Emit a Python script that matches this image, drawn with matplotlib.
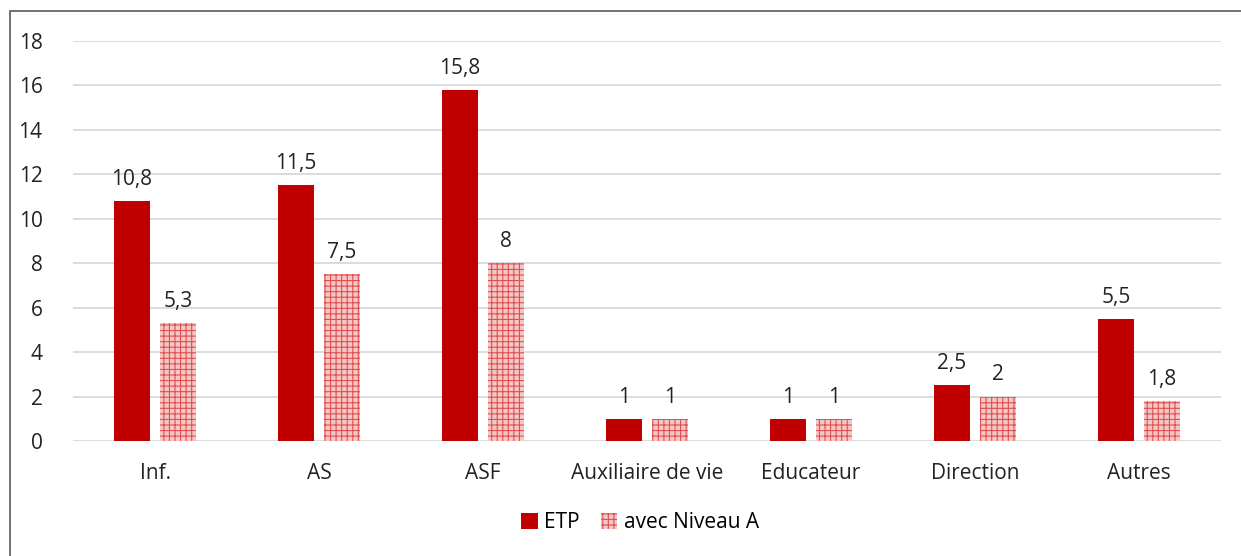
import matplotlib.pyplot as plt
import numpy as np
from matplotlib.patches import Rectangle

plt.rcParams['font.family'] = ['Open Sans', 'DejaVu Sans']
plt.rcParams['hatch.linewidth'] = 0.8

# data
categories = ['Inf.', 'AS', 'ASF', 'Auxiliaire de vie', 'Educateur', 'Direction', 'Autres']
etp = [10.8, 11.5, 15.8, 1, 1, 2.5, 5.5]
niveau_a = [5.3, 7.5, 8, 1, 1, 2, 1.8]
labels_etp = ['10,8', '11,5', '15,8', '1', '1', '2,5', '5,5']
labels_niv = ['5,3', '7,5', '8', '1', '1', '2', '1,8']

red = '#c00000'
fig = plt.figure(figsize=(12.41, 5.56), dpi=100)
ax = fig.add_axes([73 / 1241, 1 - 441 / 556, (1221 - 73) / 1241, 400 / 556])

x = np.arange(len(categories))
w = 0.225
b1 = ax.bar(x - 0.14, etp, w, color=red, linewidth=0, label='ETP', zorder=3)
b2 = ax.bar(x + 0.14, niveau_a, w, facecolor='#f5c6c6', edgecolor='#e05050',
            hatch='+++', linewidth=0, label='avec Niveau A', zorder=3)

for rect, lab in zip(b1, labels_etp):
    ax.annotate(lab, (rect.get_x() + rect.get_width() / 2, rect.get_height()),
                xytext=(0, 8), textcoords='offset points', ha='center', va='bottom',
                fontsize=15, color='#222222')
for rect, lab in zip(b2, labels_niv):
    ax.annotate(lab, (rect.get_x() + rect.get_width() / 2, rect.get_height()),
                xytext=(0, 8), textcoords='offset points', ha='center', va='bottom',
                fontsize=15, color='#222222')

ax.set_xlim(-0.5, len(categories) - 0.5)
ax.set_ylim(0, 18)
ax.set_yticks(range(0, 19, 2))
ax.set_xticks(x)
ax.set_xticklabels(categories)
ax.tick_params(axis='both', length=0, labelsize=15, colors='#222222')
ax.tick_params(axis='x', pad=16)
ax.tick_params(axis='y', pad=22)
ax.grid(axis='y', color='#d9d9d9', linewidth=1.3, zorder=0)
for s in ax.spines.values():
    s.set_visible(False)

fig.legend(handles=[b1, b2], loc='center', bbox_to_anchor=(640 / 1241, 1 - 523 / 556),
           ncol=2, frameon=False, fontsize=15, handlelength=0.8, handleheight=0.8,
           handletextpad=0.3, columnspacing=1.0)

# outer chart border
fig.patches.append(Rectangle((10 / 1241, -0.1), 1.2, 1 - 11 / 556 + 0.1,
                             transform=fig.transFigure, fill=False,
                             edgecolor='#595959', linewidth=1.2))

fig.savefig('out.png', dpi=100)
